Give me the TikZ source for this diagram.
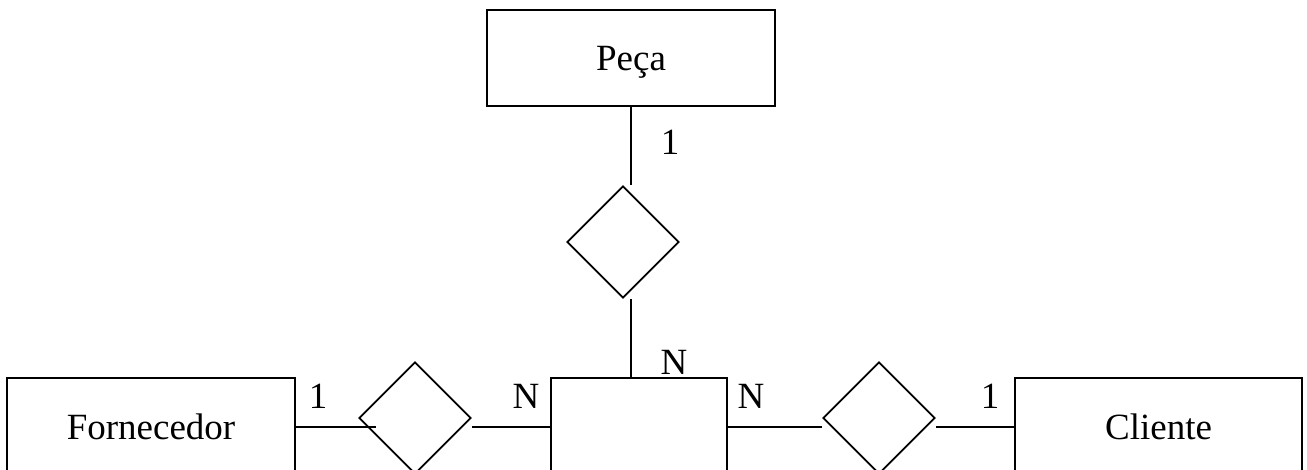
\documentclass[tikz,border=0pt]{standalone}
\usepackage{fontspec}
\setmainfont{Liberation Serif}
\usetikzlibrary{shapes.geometric}
\begin{document}
\begin{tikzpicture}[x=1pt,y=-1pt,
  every node/.style={font=\fontsize{37}{44}\selectfont, text depth=0pt},
  ent/.style={draw, line width=1.8pt, rectangle, inner sep=0pt},
  rel/.style={draw, line width=1.8pt, diamond, inner sep=0pt, minimum width=112pt, minimum height=112pt},
  conn/.style={line width=1.8pt},
  card/.style={inner sep=0pt, anchor=center}]
\useasboundingbox (0,0) rectangle (1307,470);
\clip (0,0) rectangle (1307,470);
% entities
\node[ent, minimum width=288pt, minimum height=96pt] (peca) at (631,58) {Peça};
\node[ent, minimum width=288pt, minimum height=98pt] (forn) at (151,427) {Fornecedor};
\node[ent, minimum width=176pt, minimum height=98pt] (assoc) at (639,427) {};
\node[ent, minimum width=287pt, minimum height=98pt] (cli) at (1158.5,427) {Cliente};
% relationships
\node[rel] (dtop) at (623,242) {};
\node[rel] (dl) at (415,418) {};
\node[rel] (dr) at (879,418) {};
% connectors
\coordinate (fend) at (375.5,427);
\draw[conn] (peca.south) -- (peca.south |- dtop.north);
\draw[conn] (dtop.south -| peca.south) -- (assoc.north -| peca.south);
\draw[conn] (forn.east) -- (fend);
\draw[conn] (dl.east |- assoc.west) -- (assoc.west);
\draw[conn] (assoc.east) -- (dr.west |- assoc.east);
\draw[conn] (dr.east |- cli.west) -- (cli.west);
% cardinalities
\node[card] (c1) at (670,142) {1};
\node[card] (c2) at (674,362) {N};
\node[card] (c3) at (318,396) {1};
\node[card] (c4) at (526,396) {N};
\node[card] (c5) at (751,396) {N};
\node[card] (c6) at (990,396) {1};
\end{tikzpicture}
\end{document}
